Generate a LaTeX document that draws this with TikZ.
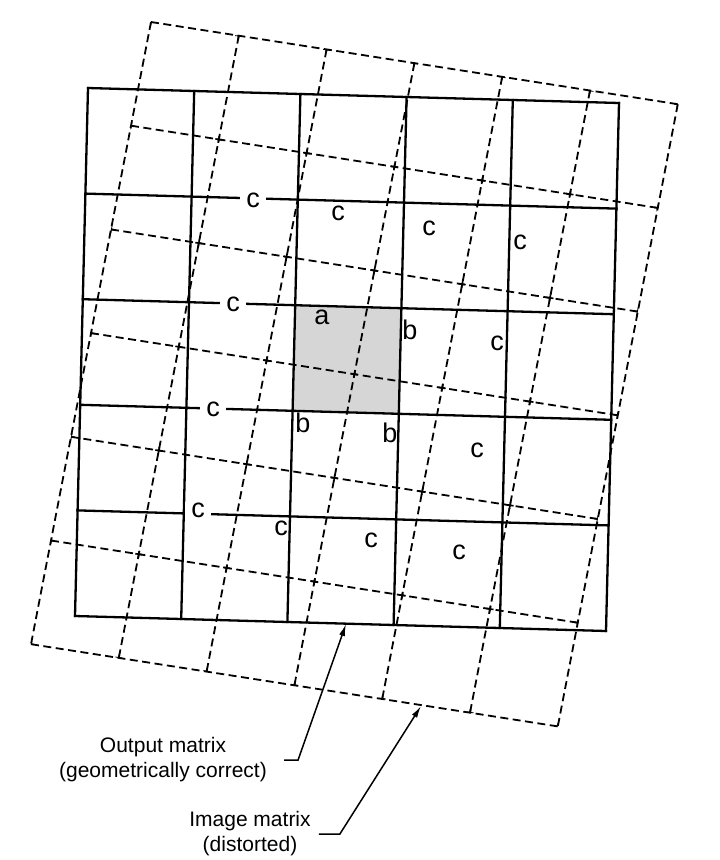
\documentclass[tikz,border=0pt]{standalone}
\usepackage{fontspec}
\setmainfont{Liberation Sans}
\usetikzlibrary{arrows.meta}
\tikzset{
	solidgrid/.style={line width=2.3pt, line cap=rect},
	dashgrid/.style={line width=1.8pt, dash pattern=on 8pt off 4.5pt},
	gridtick/.style={line width=1.6pt},
	pix/.style={font=\fontsize{27}{32}\selectfont, inner sep=1pt},
	pixgap/.style={pix, fill=white, inner xsep=6pt},
	legend/.style={font=\fontsize{21}{25}\selectfont, align=center, inner sep=2pt},
	lead/.style={line width=1.5pt, -{Latex[length=12pt,width=6pt]}}
}

\begin{document}
\begin{tikzpicture}[x=1pt,y=-1pt]
		\useasboundingbox (0,0) rectangle (720,860);
		% shaded output pixel
		\fill[black!16] (295.2,305.2) -- (401.4,308.2) -- (398.8,413.8) -- (292.6,410.8) -- cycle;
		% image matrix (distorted)
		\foreach \i in {0,...,6} {
			\draw[dashgrid] ({151+87.8*\i},{22+13.7*\i}) -- ({31+87.8*\i},{644.2+13.7*\i});
			\draw[dashgrid] ({151-20*\i},{22+103.7*\i}) -- ({677.8-20*\i},{104.2+103.7*\i});
		}
		\begin{scope}
			\clip (151,22) -- (677.8,104.2) -- (557.8,726.4) -- (31,644.2) -- cycle;
			\foreach \i in {0,...,6}
				\foreach \j in {0,...,6}
					\draw[gridtick] ({151+87.8*\i-20*\j},{22+13.7*\i+103.7*\j}) +(-3.5,-0.5) -- +(3.5,0.5) +(0.6,-3.5) -- +(-0.6,3.5);
		\end{scope}
		% output matrix (geometrically correct)
		\foreach \i in {0,...,5} {
			\draw[solidgrid] ({88+106.2*\i},{88+3*\i}) -- ({75+106.2*\i},{616+3*\i});
			\draw[solidgrid] ({88-2.6*\i},{88+105.6*\i}) -- ({619-2.6*\i},{103+105.6*\i});
		}
		\node[pixgap] (c1) at (253,200) {c};
		\node[pix] (c2) at (338,213) {c};
		\node[pix] (c3) at (429,228) {c};
		\node[pix] (c4) at (520,242) {c};
		\node[pixgap] (c5) at (233,304) {c};
		\node[pix] (a) at (322,317) {a};
		\node[pix] (b1) at (410,330) {b};
		\node[pix] (c6) at (497,343) {c};
		\node[pixgap] (c7) at (213,409) {c};
		\node[pix] (b2) at (303,423) {b};
		\node[pix] (b3) at (390,433) {b};
		\node[pix] (c8) at (477,450) {c};
		\node[pixgap] (c9) at (198,510) {c};
		\node[pix] (c10) at (281,528) {c};
		\node[pix] (c11) at (371,540) {c};
		\node[pix] (c12) at (459,552) {c};
		% leaders
		\coordinate (otip) at (346,624);
		\coordinate (itip) at (421,706);
		\node[legend] (outtxt) at (163,760) {Output matrix\\(geometrically correct)};
		\node[legend] (imgtxt) at (250,834) {Image matrix\\(distorted)};
		\draw[lead] ([xshift=15pt]outtxt.east) -- ++(14,0) -- (otip);
		\draw[lead] ([xshift=6pt]imgtxt.east) -- ++(21,0) -- (itip);
	\end{tikzpicture}
\end{document}
